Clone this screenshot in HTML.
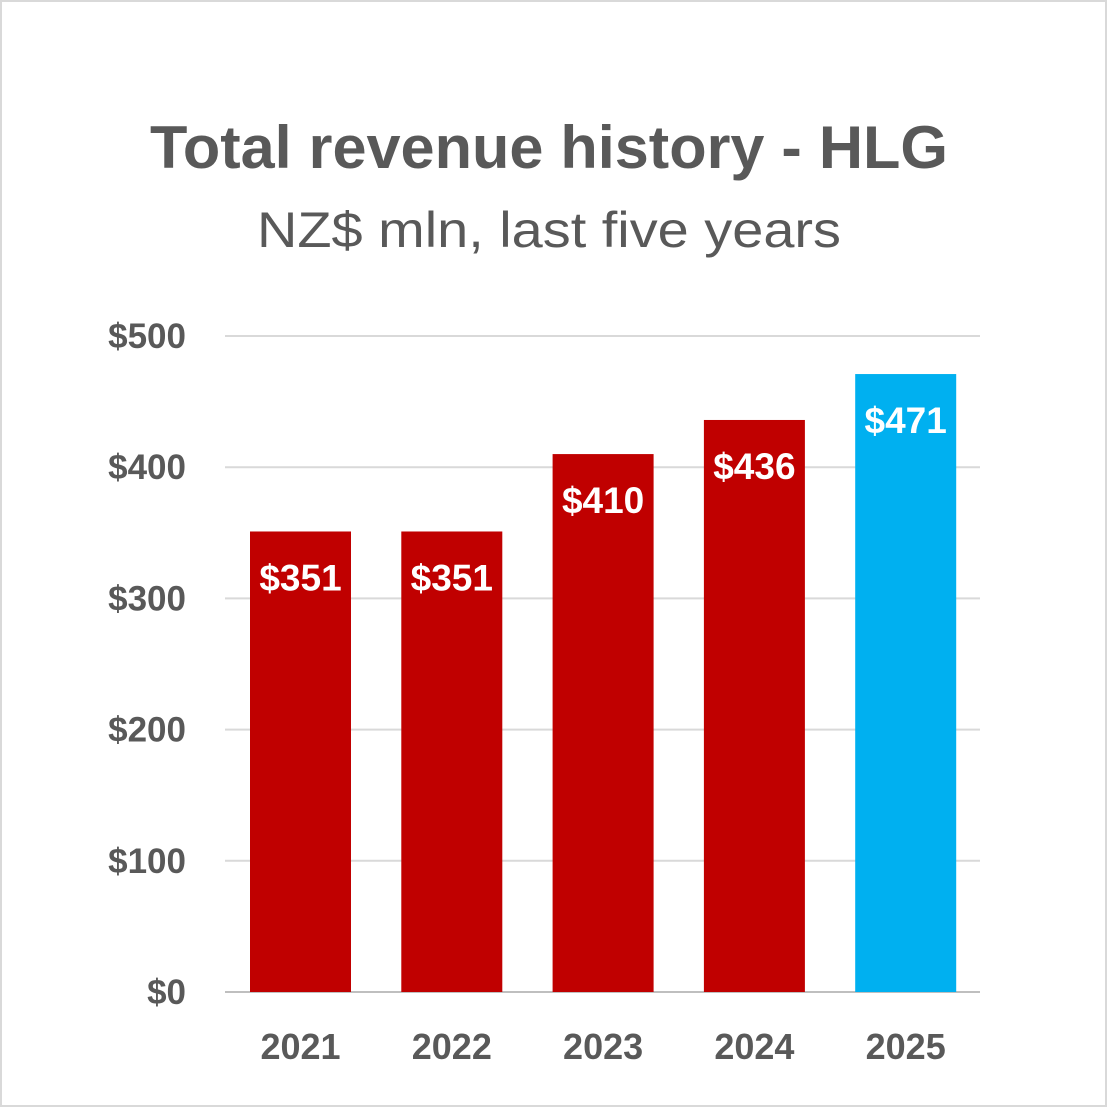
<!DOCTYPE html>
<html><head><meta charset="utf-8"><style>
html,body{margin:0;padding:0;background:#fff;}
svg{display:block;font-family:"Liberation Sans",sans-serif;}
</style></head><body>
<svg id="chart" width="1107" height="1107" viewBox="0 0 1107 1107">
<rect x="1" y="1" width="1105" height="1105" fill="#fff" stroke="#d9d9d9" stroke-width="2"/>
<text x="549" y="168" text-anchor="middle" font-size="60" font-weight="bold" fill="#595959" textLength="798" lengthAdjust="spacingAndGlyphs">Total revenue history - HLG</text>
<text x="549" y="247" text-anchor="middle" font-size="50" fill="#595959" textLength="584" lengthAdjust="spacingAndGlyphs">NZ$ mln, last five years</text>
<g id="grid"></g><g id="bars"></g><g id="labels"></g>
</svg>
<script>
const categories=["2021","2022","2023","2024","2025"];
const values=[351,351,410,436,471];
const valueLabels=["$351","$351","$410","$436","$471"];
const yTicks=[0,100,200,300,400,500];
const yTickLabels=["$0","$100","$200","$300","$400","$500"];
const ns="http://www.w3.org/2000/svg";
const y0=992,pxPer=656/500;
function y(v){return y0-v*pxPer;}
function xc(i){return 300.5+i*151.3;}
const bw=101;
const grid=document.getElementById('grid'),bars=document.getElementById('bars'),labels=document.getElementById('labels');
function mk(tag,attrs,parent,txt){const e=document.createElementNS(ns,tag);for(const k in attrs)e.setAttribute(k,attrs[k]);if(txt!==undefined)e.textContent=txt;parent.appendChild(e);return e;}
yTicks.forEach((t,i)=>{
 const l=mk('line',{x1:225,x2:980,y1:y(t),y2:y(t),stroke:t===0?'#bfbfbf':'#d9d9d9','stroke-width':2},grid);
 
 
 const tx=mk('text',{x:186,y:y(t)+12,'text-anchor':'end','font-size':35,'font-weight':'bold',fill:'#595959'},labels,yTickLabels[i]);
 
 
});
values.forEach((v,i)=>{
 const r=mk('rect',{x:xc(i)-bw/2,y:y(v),width:bw,height:y0-y(v),fill:i===4?'#00b0f0':'#c00000'},bars);
 
 
 const vl=mk('text',{x:xc(i),y:y(v)+59,'text-anchor':'middle','font-size':37,'font-weight':'bold',fill:'#fff'},labels,valueLabels[i]);
 
 
 const xl=mk('text',{x:xc(i),y:1059,'text-anchor':'middle','font-size':36,'font-weight':'bold',fill:'#595959'},labels,categories[i]);
 
 
});
</script>
</body></html>
